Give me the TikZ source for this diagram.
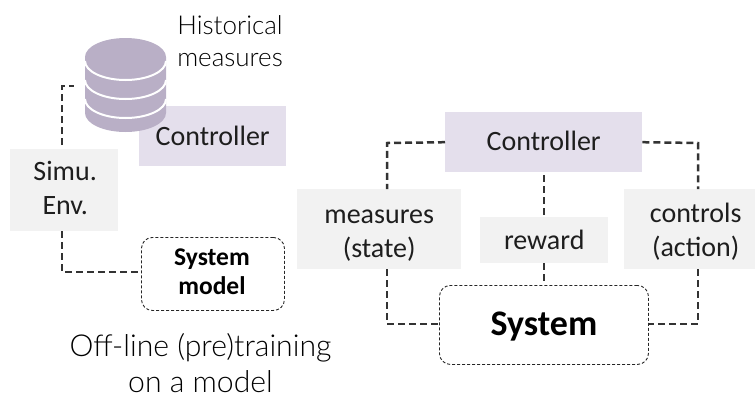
\documentclass[tikz,border=0pt]{standalone}
\usepackage{fontspec}
\setmainfont{Carlito}
\newfontfamily\lightf{Lato Light}
\newcommand{\nudged}[3]{\raisebox{#2}[\height][\depth]{\kern#1\relax\begin{tabular}{@{}c@{}}#3\end{tabular}\kern-#1\relax}}
\definecolor{ctrlfill}{HTML}{E4DFEC}
\definecolor{greyfill}{HTML}{F2F2F2}
\definecolor{dbfill}{HTML}{B9AFC6}
\definecolor{ink}{HTML}{1E1E1E}
\definecolor{linec}{HTML}{333333}
\tikzset{
  boxn/.style={inner sep=0pt,align=center,text=ink,anchor=north west,font=\fontsize{28}{34}\selectfont},
  ctrlbox/.style={boxn,fill=ctrlfill},
  greybox/.style={boxn,fill=greyfill},
  sysbox/.style={boxn,draw=black!85,dash pattern=on 3pt off 2pt,line width=0.9pt,rounded corners=11pt,text=black},
  link/.style={draw=linec,line width=2.5pt,dash pattern=on 7pt off 4pt},
  plain/.style={inner sep=0pt,align=center,text=black},
}
\begin{document}
\begin{tikzpicture}[x=1pt,y=-1pt]
\useasboundingbox (0,0) rectangle (755,397);
% boxes
\node[ctrlbox,minimum width=147pt,minimum height=60pt] (ctrlA) at (139,106) {\nudged{0pt}{-2pt}{Controller}};
\node[greybox,minimum width=108pt,minimum height=82pt] (simu) at (10,149) {\nudged{1pt}{0pt}{Simu.\\Env.}};
\node[sysbox,minimum width=143pt,minimum height=73pt,font=\fontsize{25.5}{29}\selectfont\bfseries] (model) at (141,237) {\nudged{-1pt}{0pt}{System\\model}};
\node[greybox,minimum width=164pt,minimum height=80pt] (meas) at (297,189) {\nudged{0pt}{-4pt}{measures\\(state)}};
\node[ctrlbox,minimum width=197pt,minimum height=60pt] (ctrlB) at (445,112) {\nudged{0pt}{-1pt}{Controller}};
\node[greybox,minimum width=128pt,minimum height=46pt] (rew) at (480,217) {reward};
\node[greybox,minimum width=131pt,minimum height=80pt] (contr) at (624,189) {\nudged{6pt}{-3pt}{controls\\(action)}};
\node[sysbox,minimum width=209pt,minimum height=79pt,font=\fontsize{36}{40}\selectfont\bfseries] (sys) at (439,285) {\nudged{0pt}{-3pt}{System}};
% database
\fill[dbfill] (85,57) -- (85,113) arc[start angle=180,end angle=360,x radius=40.5pt,y radius=19pt] -- (166,57) arc[start angle=0,end angle=180,x radius=40.5pt,y radius=19pt] -- cycle;
\foreach \yy in {57,76,95}{
  \draw[white,line width=2pt] (85,\yy+4) arc[start angle=180,end angle=360,x radius=40.5pt,y radius=19pt];
}
\coordinate (dbend) at (74,86);
% captions
\node[plain,font=\fontsize{26}{32}\selectfont\lightf] (hist) at (230,41) {Historical\\measures};
\node[plain,font=\fontsize{30.2}{36}\selectfont\lightf] (off) at (200.5,363) {Off-line (pre)training\\on a model};
% connectors
\coordinate (a1) at (62,86);
\coordinate (a2) at (62,149);
\coordinate (a3) at (62,231);
\coordinate (a4) at (62,272);
\coordinate (r1) at (387,143);
\coordinate (r2) at (387,324);
\coordinate (r3) at (698,143);
\coordinate (r4) at (698,324);
\coordinate (r5) at (544,172);
\coordinate (r6) at (544,217);
\coordinate (r7) at (544,263);
\coordinate (r8) at (544,285);
\draw[link] (a2 |- simu.north) ++(0,-4) -- (a1) -- (dbend);
\draw[link] (a3 |- simu.south) -- (a4) -- (a4 -| model.west);
\draw[link] (ctrlB.west) -- (r1) -- (r1 |- meas.north);
\draw[link] (r2 |- meas.south) -- (r2) -- (r2 -| sys.west);
\draw[link] (ctrlB.east) -- (r3) -- (r3 |- contr.north);
\draw[link] (r4 |- contr.south) -- (r4) -- (r4 -| sys.east);
\draw[link] (r5 |- ctrlB.south) ++(0,3) -- (r6 |- rew.north);
\draw[link] (r7 |- rew.south) -- (r8 |- sys.north);
\end{tikzpicture}
\end{document}
